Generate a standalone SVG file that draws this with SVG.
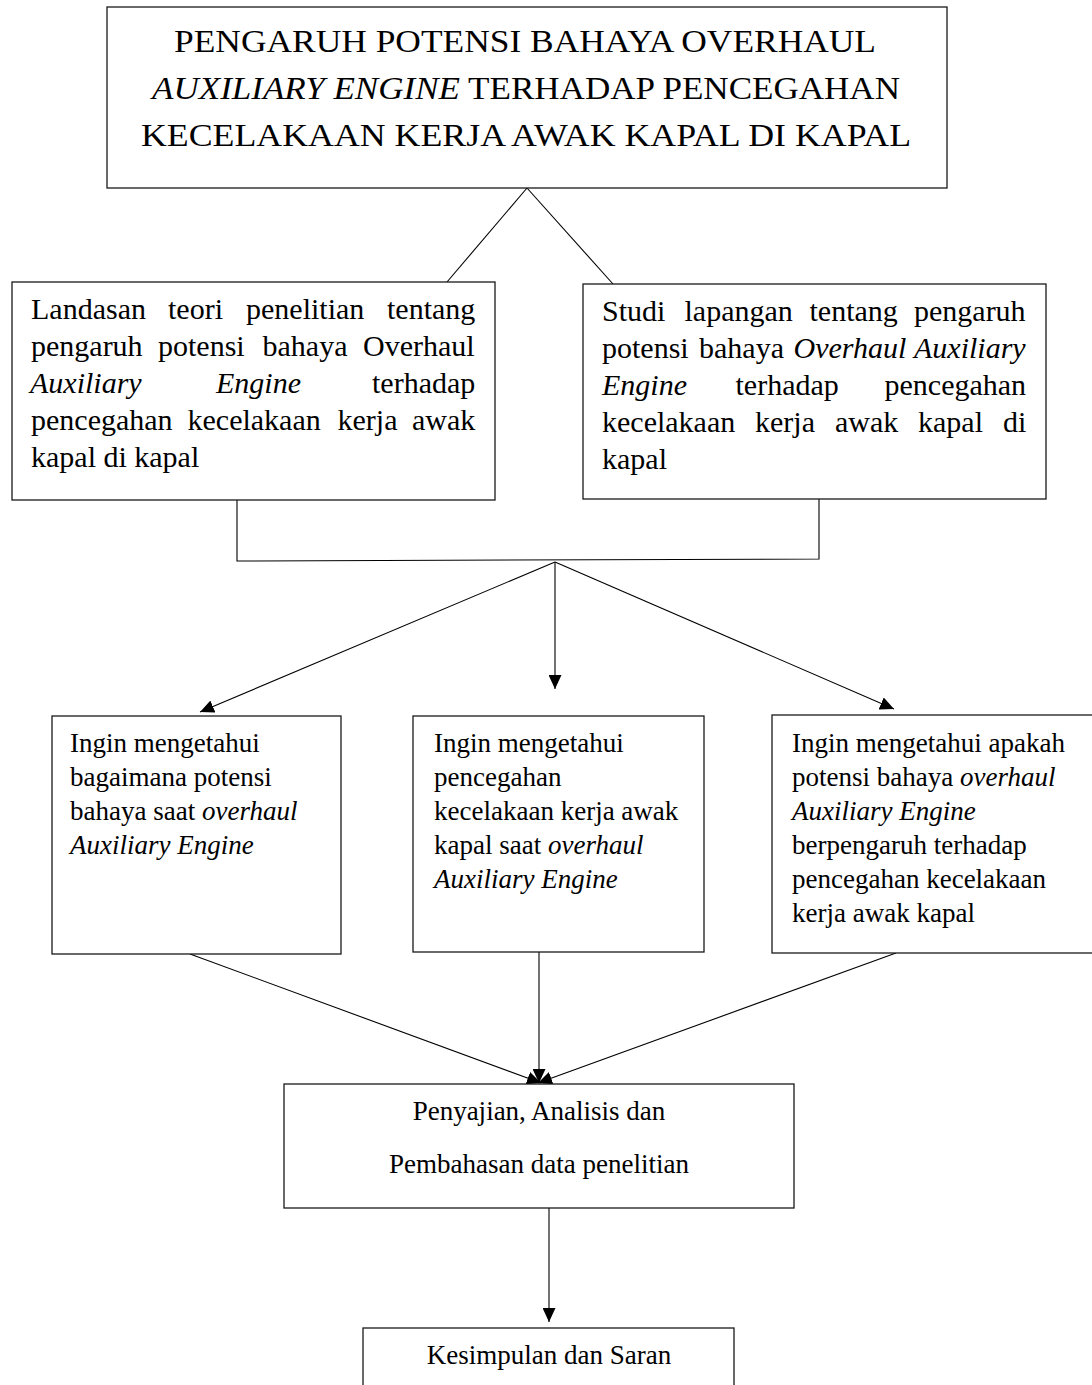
<svg xmlns="http://www.w3.org/2000/svg" width="1092" height="1385" viewBox="0 0 1092 1385">
<style>
.box{fill:#fff;stroke:#1a1a1a;stroke-width:1.3}
.ln{fill:none;stroke:#000;stroke-width:1.1}
text{font-family:"Liberation Serif","Times New Roman",serif;fill:#000}
.tt{font-size:32px}
.t30{font-size:30px}
.t27{font-size:27px}
.i{font-style:italic}
</style>
<defs>
<marker id="ah" markerUnits="userSpaceOnUse" markerWidth="14" markerHeight="13" refX="14" refY="6.5" orient="auto">
<path d="M0,0 L14,6.5 L0,13 z" fill="#000"/>
</marker>
</defs>
<rect width="1092" height="1385" fill="#fff"/>

<g id="connectors">
<line class="ln" x1="527" y1="188" x2="447" y2="282"/>
<line class="ln" x1="527" y1="188" x2="613" y2="284"/>
<polyline class="ln" points="237,500 237,561 819,559 819,499"/>
<line class="ln" x1="555" y1="562" x2="200" y2="712" marker-end="url(#ah)"/>
<line class="ln" x1="555" y1="562" x2="555" y2="689" marker-end="url(#ah)"/>
<line class="ln" x1="555" y1="562" x2="894" y2="709" marker-end="url(#ah)"/>
<line class="ln" x1="190" y1="954" x2="541" y2="1083" marker-end="url(#ah)"/>
<line class="ln" x1="539" y1="952" x2="539" y2="1083" marker-end="url(#ah)"/>
<line class="ln" x1="896" y1="953" x2="538" y2="1083" marker-end="url(#ah)"/>
<line class="ln" x1="549" y1="1208" x2="549" y2="1322" marker-end="url(#ah)"/>
</g>

<g id="title">
<rect class="box" x="107" y="7" width="840" height="181"/>
<text class="tt" x="174" y="52" textLength="702" lengthAdjust="spacingAndGlyphs">PENGARUH POTENSI BAHAYA OVERHAUL</text>
<text class="tt" x="152" y="99" textLength="748" lengthAdjust="spacingAndGlyphs"><tspan class="i">AUXILIARY ENGINE</tspan> TERHADAP PENCEGAHAN</text>
<text class="tt" x="141" y="146" textLength="770" lengthAdjust="spacingAndGlyphs">KECELAKAAN KERJA AWAK KAPAL DI KAPAL</text>
</g>

<g id="landasan">
<rect class="box" x="12" y="282" width="483" height="218"/>
<text class="t30" y="319"><tspan x="31">Landasan</tspan><tspan x="168">teori</tspan><tspan x="246">penelitian</tspan><tspan x="387">tentang</tspan></text>
<text class="t30" y="356"><tspan x="31">pengaruh</tspan><tspan x="158">potensi</tspan><tspan x="262.5">bahaya</tspan><tspan x="363">Overhaul</tspan></text>
<text class="t30" y="393"><tspan x="30" class="i">Auxiliary</tspan><tspan x="216" class="i">Engine</tspan><tspan x="372">terhadap</tspan></text>
<text class="t30" y="430"><tspan x="31">pencegahan</tspan><tspan x="187.5">kecelakaan</tspan><tspan x="337.5">kerja</tspan><tspan x="412">awak</tspan></text>
<text class="t30" y="467" x="31">kapal di kapal</text>
</g>

<g id="studi">
<rect class="box" x="583" y="284" width="463" height="215"/>
<text class="t30" y="321"><tspan x="602">Studi</tspan><tspan x="684.5">lapangan</tspan><tspan x="809.5">tentang</tspan><tspan x="914">pengaruh</tspan></text>
<text class="t30" y="358"><tspan x="602">potensi</tspan><tspan x="699">bahaya</tspan><tspan x="793.5" class="i">Overhaul</tspan><tspan x="914" class="i">Auxiliary</tspan></text>
<text class="t30" y="395"><tspan x="602" class="i">Engine</tspan><tspan x="735.5">terhadap</tspan><tspan x="884.5">pencegahan</tspan></text>
<text class="t30" y="432"><tspan x="602">kecelakaan</tspan><tspan x="755">kerja</tspan><tspan x="835">awak</tspan><tspan x="918">kapal</tspan><tspan x="1003">di</tspan></text>
<text class="t30" y="469" x="602">kapal</text>
</g>

<g id="tujuan1">
<rect class="box" x="52" y="716" width="289" height="238"/>
<text class="t27" x="70" y="752">Ingin mengetahui</text>
<text class="t27" x="70" y="786">bagaimana potensi</text>
<text class="t27" x="70" y="820">bahaya saat <tspan class="i">overhaul</tspan></text>
<text class="t27 i" x="70" y="854">Auxiliary Engine</text>
</g>

<g id="tujuan2">
<rect class="box" x="413" y="716" width="291" height="236"/>
<text class="t27" x="434" y="752">Ingin mengetahui</text>
<text class="t27" x="434" y="786">pencegahan</text>
<text class="t27" x="434" y="820">kecelakaan kerja awak</text>
<text class="t27" x="434" y="854">kapal saat <tspan class="i">overhaul</tspan></text>
<text class="t27 i" x="434" y="888">Auxiliary Engine</text>
</g>

<g id="tujuan3">
<rect class="box" x="772" y="715" width="330" height="238"/>
<text class="t27" x="792" y="752">Ingin mengetahui apakah</text>
<text class="t27" x="792" y="786">potensi bahaya <tspan class="i">overhaul</tspan></text>
<text class="t27 i" x="792" y="820">Auxiliary Engine</text>
<text class="t27" x="792" y="854">berpengaruh terhadap</text>
<text class="t27" x="792" y="888">pencegahan kecelakaan</text>
<text class="t27" x="792" y="922">kerja awak kapal</text>
</g>

<g id="penyajian">
<rect class="box" x="284" y="1084" width="510" height="124"/>
<text class="t27" x="539" y="1120" text-anchor="middle">Penyajian, Analisis dan</text>
<text class="t27" x="539" y="1173" text-anchor="middle">Pembahasan data penelitian</text>
</g>

<g id="kesimpulan">
<rect class="box" x="363" y="1328" width="371" height="80"/>
<text class="t27" x="549" y="1364" text-anchor="middle">Kesimpulan dan Saran</text>
</g>
</svg>
